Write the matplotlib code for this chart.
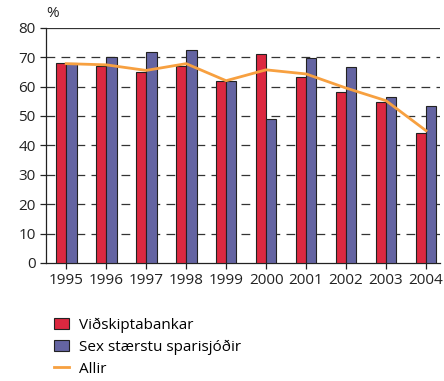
#! /usr/bin/env python3

import numpy as np
import matplotlib.pyplot as plt
from matplotlib.lines import Line2D
from matplotlib.patches import Patch

years = ['1995', '1996', '1997', '1998', '1999', '2000', '2001', '2002', '2003', '2004']
vidskipta = [68, 67, 65, 67, 62, 71, 63.2, 58.1, 54.6, 44.2]
sparisjodir = [68, 70, 71.7, 72.5, 62, 48.8, 69.8, 66.8, 56.6, 53.5]
allir = [67.8, 67.4, 65.5, 67.8, 62, 65.7, 64.3, 59.5, 55.2, 45]

red = '#dc2840'
blue = '#6464a2'
orange = '#f7a040'

plt.rcParams['font.family'] = ['Open Sans', 'DejaVu Sans']

fig = plt.figure(figsize=(4.44, 3.81), dpi=100)
ax = fig.add_axes([0.104, 0.31, 0.887, 0.617])

x = np.arange(len(years))
w = 0.26
ax.bar(x - w/2, vidskipta, w, color=red, edgecolor='#222222', linewidth=0.8, zorder=3)
ax.bar(x + w/2, sparisjodir, w, color=blue, edgecolor='#222222', linewidth=0.8, zorder=3)
ax.plot(x, allir, color=orange, linewidth=2, zorder=4)

# grid
for g in range(10, 80, 10):
    ax.axhline(g, color='#333333', linewidth=0.9, dashes=(7, 5), zorder=1)
ax.axhline(80, color='#333333', linewidth=0.9, zorder=1)

ax.set_ylim(0, 80)
ax.set_xlim(-0.5, 9.35)
ax.set_yticks(range(0, 81, 10))
ax.set_xticks(x)
ax.set_xticklabels(years)
ax.tick_params(axis='both', labelsize=11, colors='#222222', length=4, width=0.9)
for s in ['top', 'right']:
    ax.spines[s].set_visible(False)
for s in ['left', 'bottom']:
    ax.spines[s].set_color('#222222')
    ax.spines[s].set_linewidth(0.9)

ax.text(0.0, 1.03, '%', transform=ax.transAxes, fontsize=11, color='#222222', ha='left', va='bottom')

handles = [Patch(facecolor=red, edgecolor='#222222', linewidth=0.8),
           Patch(facecolor=blue, edgecolor='#222222', linewidth=0.8),
           Line2D([0], [0], color=orange, linewidth=2)]
labels = ['Viðskiptabankar', 'Sex stærstu sparisjóðir', 'Allir']
fig.legend(handles, labels, loc='upper left', bbox_to_anchor=(0.108, 0.183), frameon=False,
           fontsize=11, handlelength=1.0, handleheight=0.7, labelspacing=0.45, handletextpad=0.6,
           borderaxespad=0)

fig.savefig('out.png', dpi=100)
